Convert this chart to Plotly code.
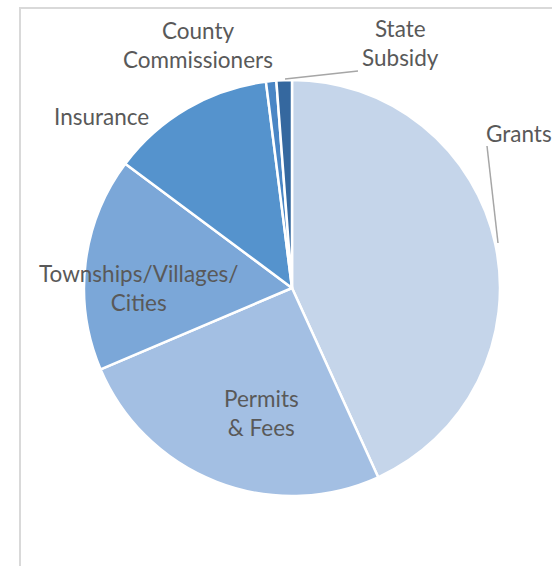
import plotly.graph_objects as go

categories = ["Grants", "Permits & Fees", "Townships/Villages/Cities", "Insurance",
              "County Commissioners", "State Subsidy"]
values = [43.2, 25.4, 16.6, 12.8, 0.8, 1.2]
colors = ["#c5d5ea", "#a3bfe3", "#7ba7d8", "#5593cd", "#4a86c5", "#35689f"]

W, H = 552, 566
cx, cy, r = 292, 288, 208

fig = go.Figure(go.Pie(
    labels=categories, values=values, sort=False, direction="clockwise", rotation=0,
    marker=dict(colors=colors, line=dict(color="white", width=2.5)),
    textinfo="none", hoverinfo="label+percent", showlegend=False,
    domain=dict(x=[(cx - r) / W, (cx + r) / W], y=[1 - (cy + r) / H, 1 - (cy - r) / H]),
))

FONT = dict(family="Lato", size=22.5, color="#595959")

def px(x, y):
    return x / W, 1 - y / H

labels_pos = [
    ("Grants", 484, 133, "left"),
    ("Permits<br>& Fees", 261, 413, "center"),
    ("Townships/Villages/<br>Cities", 138, 288, "center"),
    ("Insurance", 101, 116, "center"),
    ("County<br>Commissioners", 198, 45, "center"),
    ("State<br>Subsidy", 400, 43, "center"),
]
for text, x, y, al in labels_pos:
    xx, yy = px(x, y)
    fig.add_annotation(x=xx, y=yy, xref="paper", yref="paper", text=text, showarrow=False,
                       xanchor=al, yanchor="middle", align="center", font=FONT)

shapes = []
# frame
shapes.append(dict(type="rect", xref="paper", yref="paper", x0=20 / W, x1=1.1, y0=-0.1, y1=1 - 8 / H,
                   line=dict(color="#d9d9d9", width=2), layer="below"))
# leader lines
for (x0, y0), (x1, y1) in [((498, 243), (487, 146)), ((285, 79), (358, 71))]:
    a, b = px(x0, y0)
    c, d = px(x1, y1)
    shapes.append(dict(type="line", xref="paper", yref="paper", x0=a, y0=b, x1=c, y1=d,
                       line=dict(color="#a6a6a6", width=1.5)))

fig.update_layout(width=W, height=H, margin=dict(l=0, r=0, t=0, b=0),
                  paper_bgcolor="white", plot_bgcolor="white", shapes=shapes)
fig.write_html("out.html")
